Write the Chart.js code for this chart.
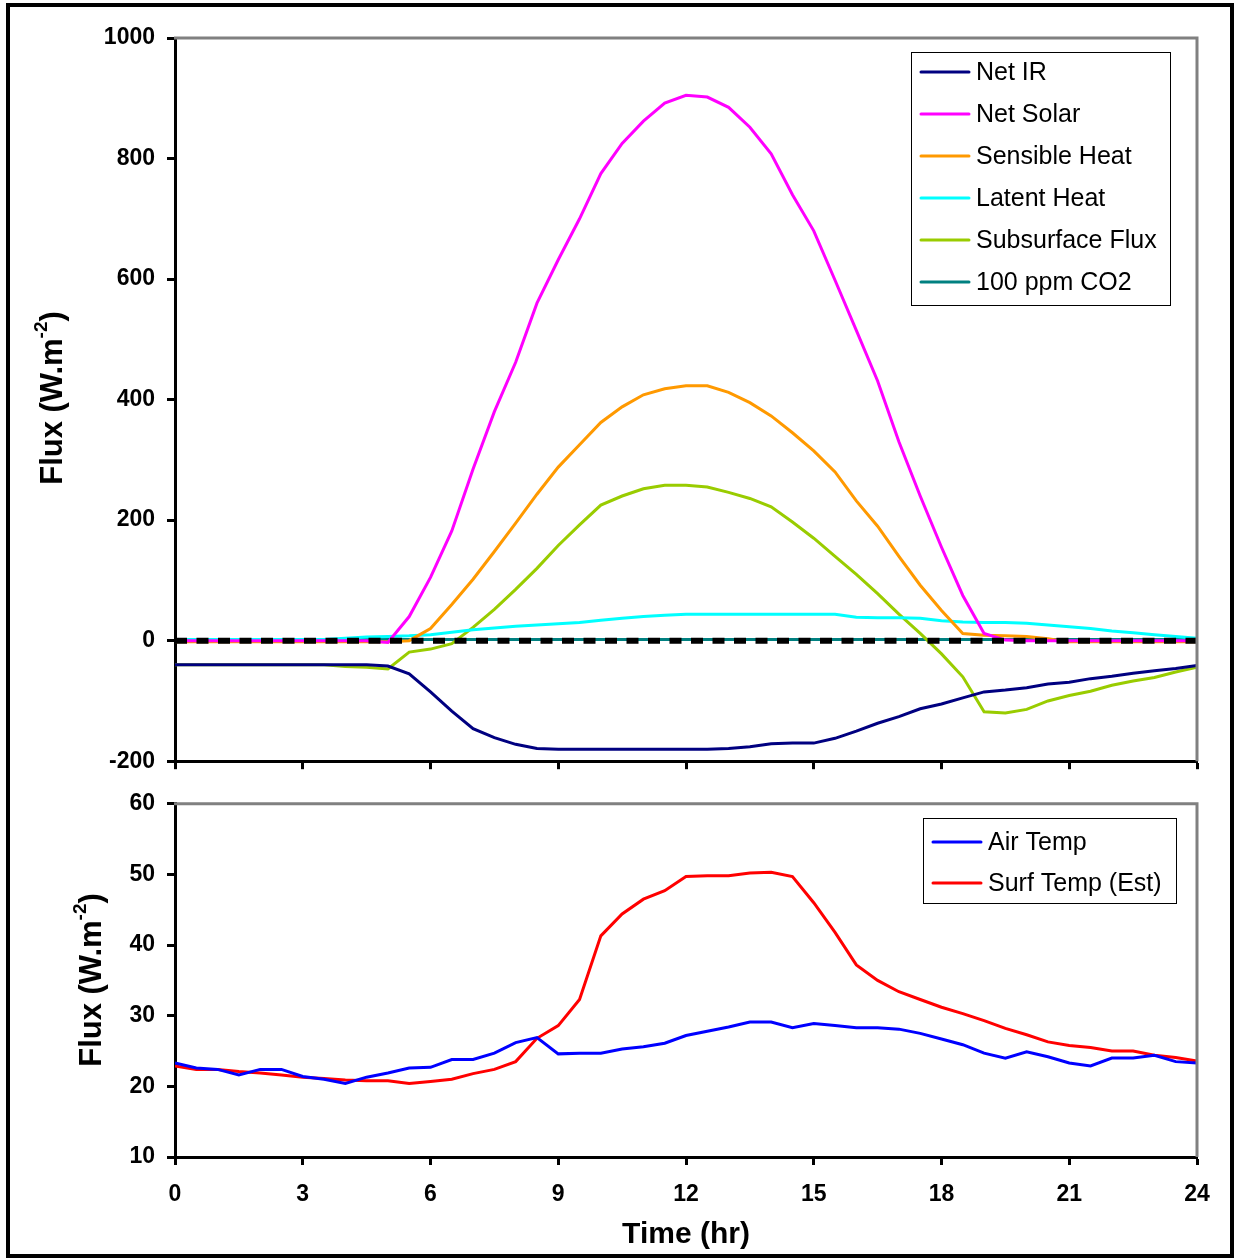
<!DOCTYPE html>
<html>
<head>
<meta charset="utf-8">
<script src="https://cdn.jsdelivr.net/npm/chart.js@4.4.1/dist/chart.umd.min.js"></script>
<style>
  body { margin: 0; background: #fff; }
  #wrap { position: relative; width: 1236px; height: 1259px; background: #fff; overflow: hidden; }
  #topBox { position: absolute; left: 0; top: 0; }
  #botBox { position: absolute; left: 0; top: 778px; }
  #border { position: absolute; left: 6px; top: 3px; width: 1228px; height: 1255px; border: 4px solid #000; box-sizing: border-box; pointer-events: none; }
</style>
</head>
<body>
<div id="wrap">
  <div id="topBox"><canvas id="fluxChart" width="1236" height="787"></canvas></div>
  <div id="botBox"><canvas id="tempChart" width="1236" height="481"></canvas></div>
  <div id="border"></div>
</div>
<script>
// time of day, half hour steps
const hours = [0,0.5,1,1.5,2,2.5,3,3.5,4,4.5,5,5.5,6,6.5,7,7.5,8,8.5,9,9.5,10,10.5,11,11.5,12,12.5,13,13.5,14,14.5,15,15.5,16,16.5,17,17.5,18,18.5,19,19.5,20,20.5,21,21.5,22,22.5,23,23.5,24];
const xTicks = [0, 3, 6, 9, 12, 15, 18, 21, 24];

// top panel: fluxes (W.m-2)
const netIR = [-40,-40,-40,-40,-40,-40,-40,-40,-40,-40,-42,-55,-85,-117,-146,-161,-172,-179,-180,-180,-180,-180,-180,-180,-180,-180,-179,-176,-171,-170,-170,-162,-150,-137,-126,-113,-105,-95,-85,-82,-78,-72,-69,-63,-59,-54,-50,-46,-41];
const netSolar = [0,0,0,0,0,0,0,0,0,0,-3,40,105,182,285,380,462,560,632,700,775,825,862,892,905,902,885,852,808,740,680,598,515,431,330,240,155,75,12,1,0,0,0,0,0,0,0,0,0];
const sensible = [-2,-2,-2,-2,-2,-2,-2,-2,-2,-2,-2,0,20,60,102,148,195,243,288,325,362,388,408,418,423,423,412,395,373,345,315,280,232,190,140,92,50,12,9,8,7,3,-2,-2,-2,-2,-2,-2,-2];
const latent = [2,2,2,2,2,2,2,2,4,6,7,8,10,14,18,21,24,26,28,30,34,37,40,42,44,44,44,44,44,44,44,44,39,38,38,37,33,31,30,30,29,26,23,20,16,13,10,7,4];
const subsurface = [-40,-40,-40,-40,-40,-40,-40,-40,-43,-44,-47,-19,-14,-5,22,52,85,120,158,192,225,240,252,258,258,255,246,236,222,197,170,140,110,78,44,12,-22,-60,-118,-120,-114,-100,-91,-84,-74,-67,-61,-52,-44];
const co2 = [2,2,2,2,2,2,2,2,2,2,2,2,2,2,2,2,2,2,2,2,2,2,2,2,2,2,2,2,2,2,2,2,2,2,2,2,2,2,2,2,2,2,2,2,2,2,2,2,2];
const zeroLine = [0,0,0,0,0,0,0,0,0,0,0,0,0,0,0,0,0,0,0,0,0,0,0,0,0,0,0,0,0,0,0,0,0,0,0,0,0,0,0,0,0,0,0,0,0,0,0,0,0];

// bottom panel: temperatures
const airTemp = [23.3,22.6,22.4,21.6,22.4,22.4,21.4,21.0,20.4,21.3,21.9,22.6,22.7,23.8,23.8,24.7,26.2,26.9,24.6,24.7,24.7,25.3,25.6,26.1,27.2,27.8,28.4,29.1,29.1,28.3,28.9,28.6,28.3,28.3,28.1,27.5,26.7,25.9,24.7,24.0,24.9,24.2,23.3,22.9,24.0,24.0,24.4,23.5,23.3];
const surfTemp = [22.9,22.4,22.4,22.1,21.9,21.6,21.3,21.1,20.9,20.8,20.8,20.4,20.7,21.0,21.8,22.4,23.5,26.8,28.6,32.3,41.3,44.4,46.5,47.7,49.7,49.8,49.8,50.2,50.3,49.7,46.0,41.8,37.2,35.0,33.4,32.3,31.2,30.3,29.3,28.2,27.3,26.3,25.8,25.5,25.0,25.0,24.4,24.1,23.6];

const fluxTicks = [-200, 0, 200, 400, 600, 800, 1000];
const tempTicks = [10, 20, 30, 40, 50, 60];

Chart.defaults.font.family = "'Liberation Sans', Arial, sans-serif";
Chart.defaults.color = "#000";

function pts(arr) {
  return hours.map((h, i) => ({ x: h, y: arr[i] }));
}

function line(label, arr, color) {
  return {
    label: label,
    data: pts(arr),
    borderColor: color,
    backgroundColor: color,
    borderWidth: 3,
    pointRadius: 0,
    tension: 0,
  };
}

// gray frame on top and right of the plot area
const frame = {
  id: "frame",
  afterDatasetsDraw(chart) {
    const { ctx, chartArea: a } = chart;
    ctx.save();
    ctx.strokeStyle = "#808080";
    ctx.lineWidth = 3;
    ctx.beginPath();
    ctx.moveTo(a.left - 1, a.top);
    ctx.lineTo(a.right, a.top);
    ctx.lineTo(a.right, a.bottom);
    ctx.stroke();
    ctx.restore();
  },
};

// legend in a bordered box inside the plot
const boxLegend = {
  id: "boxLegend",
  afterDraw(chart, args, o) {
    const ctx = chart.ctx;
    ctx.save();
    ctx.fillStyle = "#fff";
    ctx.fillRect(o.left, o.top, o.width, o.height);
    ctx.strokeStyle = "#000";
    ctx.lineWidth = 1;
    ctx.strokeRect(o.left + 0.5, o.top + 0.5, o.width, o.height);
    ctx.font = "25px 'Liberation Sans', Arial, sans-serif";
    ctx.textBaseline = "middle";
    let row = 0;
    chart.data.datasets.forEach((ds) => {
      if (!ds.label) return;
      const y = o.firstRow + row * o.rowGap;
      ctx.strokeStyle = ds.borderColor;
      ctx.lineWidth = 3;
      ctx.lineCap = "round";
      ctx.beginPath();
      ctx.moveTo(o.lineX1, y);
      ctx.lineTo(o.lineX2, y);
      ctx.stroke();
      ctx.fillStyle = "#000";
      ctx.fillText(ds.label, o.textX, y + 1);
      row++;
    });
    ctx.restore();
  },
};

// rotated y title with superscript
const yTitle = {
  id: "yTitle",
  afterDraw(chart, args, o) {
    const ctx = chart.ctx;
    const big = "bold 31px 'Liberation Sans', Arial, sans-serif";
    const small = "bold 19px 'Liberation Sans', Arial, sans-serif";
    ctx.save();
    ctx.translate(o.x, o.y);
    ctx.rotate(-Math.PI / 2);
    ctx.fillStyle = "#000";
    ctx.textBaseline = "middle";
    ctx.font = big;
    const w1 = ctx.measureText(o.main).width;
    const w3 = ctx.measureText(o.tail).width;
    ctx.font = small;
    const w2 = ctx.measureText(o.sup).width;
    let x = -(w1 + w2 + w3) / 2;
    ctx.font = big;
    ctx.fillText(o.main, x, 0);
    x += w1;
    ctx.font = small;
    ctx.fillText(o.sup, x, -11);
    x += w2;
    ctx.font = big;
    ctx.fillText(o.tail, x, 0);
    ctx.restore();
  },
};

const axisGrid = {
  drawOnChartArea: false,
  drawTicks: true,
  tickLength: 8,
  tickWidth: 3,
  tickColor: "#000",
};
const axisBorder = { color: "#000", width: 3 };

function xAxis(showLabels) {
  return {
    type: "linear",
    min: 0,
    max: 24,
    afterBuildTicks: (s) => { s.ticks = xTicks.map((v) => ({ value: v })); },
    ticks: { display: showLabels, padding: 16, font: { size: 23, weight: "bold" }, callback: (v) => String(v) },
    grid: axisGrid,
    border: axisBorder,
    title: {
      display: showLabels,
      text: "Time (hr)",
      font: { size: 30, weight: "bold" },
      padding: { top: 0, bottom: 6 },
    },
    afterFit: (s) => { s.height = showLabels ? 102 : 15; },
  };
}

function yAxis(min, max, tickList) {
  return {
    min: min,
    max: max,
    afterBuildTicks: (s) => { s.ticks = tickList.map((v) => ({ value: v })); },
    ticks: { padding: 12, font: { size: 23, weight: "bold" }, callback: (v) => String(v) },
    grid: axisGrid,
    border: axisBorder,
    afterFit: (s) => { s.width = 175; },
  };
}

const zeroDs = line("", zeroLine, "#000");
zeroDs.borderWidth = 6;
zeroDs.borderDash = [12, 9.5];
zeroDs.order = -1;

const fluxChart = new Chart(document.getElementById("fluxChart"), {
  type: "line",
  data: {
    datasets: [
      line("Net IR", netIR, "#000080"),
      line("Net Solar", netSolar, "#FF00FF"),
      line("Sensible Heat", sensible, "#FF9900"),
      line("Latent Heat", latent, "#00FFFF"),
      line("Subsurface Flux", subsurface, "#99CC00"),
      line("100 ppm CO2", co2, "#008080"),
      zeroDs,
    ],
  },
  options: {
    responsive: false,
    animation: false,
    layout: { padding: { top: 38, right: 39, left: 0, bottom: 0 } },
    scales: { x: xAxis(false), y: yAxis(-200, 1000, fluxTicks) },
    plugins: {
      legend: { display: false },
      tooltip: { enabled: false },
      boxLegend: { left: 911, top: 52, width: 259, height: 253, firstRow: 72, rowGap: 42, lineX1: 921, lineX2: 969, textX: 976 },
      yTitle: { x: 53, y: 398, main: "Flux (W.m", sup: "-2", tail: ")" },
    },
  },
  plugins: [frame, boxLegend, yTitle],
});

const tempChart = new Chart(document.getElementById("tempChart"), {
  type: "line",
  data: {
    datasets: [
      line("Air Temp", airTemp, "#0000FF"),
      line("Surf Temp (Est)", surfTemp, "#FF0000"),
    ],
  },
  options: {
    responsive: false,
    animation: false,
    layout: { padding: { top: 19, right: 39, left: 0, bottom: 0 } },
    scales: { x: xAxis(true), y: yAxis(10, 60, tempTicks) },
    plugins: {
      legend: { display: false },
      tooltip: { enabled: false },
      boxLegend: { left: 923, top: 40, width: 253, height: 85, firstRow: 64, rowGap: 41, lineX1: 933, lineX2: 981, textX: 988 },
      yTitle: { x: 92, y: 202, main: "Flux (W.m", sup: "-2", tail: ")" },
    },
  },
  plugins: [frame, boxLegend, yTitle],
});
</script>
</body>
</html>
